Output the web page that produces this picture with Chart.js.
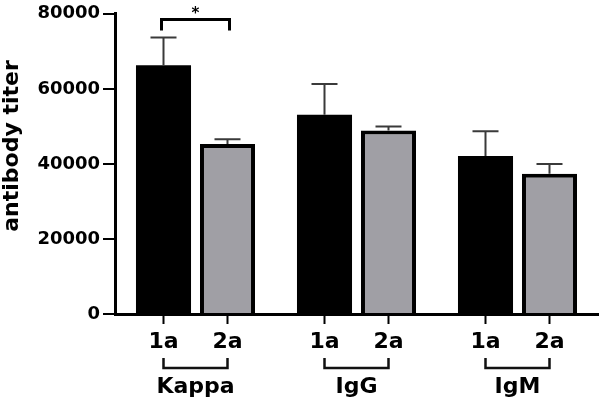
<!DOCTYPE html>
<html>
<head>
<meta charset="utf-8">
<script src="https://cdn.jsdelivr.net/npm/chart.js@4.4.1/dist/chart.umd.min.js"></script>
<style>
  html, body { margin: 0; padding: 0; background: #fff; }
  #wrap { width: 600px; height: 405px; }
</style>
</head>
<body>
<div id="wrap"><canvas id="titer-chart" width="600" height="405"></canvas></div>
<script>
// Chart data
const groups    = ['Kappa', 'IgG', 'IgM'];
const subLabels = ['1a', '2a'];
const titer1a   = [66300, 53100, 42100];
const titer2a   = [45300, 48900, 37400];
const err1a     = [7400, 8200, 6600];
const err2a     = [1300, 1100, 2600];
const yTicks    = [0, 20000, 40000, 60000, 80000];
const yTitle    = 'antibody titer';
const sigGroup  = 0;      // Kappa 1a vs 2a
const sigLabel  = '*';

const FONT = 'DejaVu Sans';
const errors = [err1a, err2a];

/**
 * Draws upward-only error bars with caps on top of every bar.
 */
const errorBars = {
  id: 'errorBars',
  afterDatasetsDraw(chart) {
    const ctx = chart.ctx;
    const y = chart.scales.y;
    ctx.save();
    ctx.strokeStyle = '#3a3a3a';
    ctx.lineWidth = 2;
    chart.data.datasets.forEach((ds, d) => {
      chart.getDatasetMeta(d).data.forEach((bar, i) => {
        const top = y.getPixelForValue(ds.data[i] + errors[d][i]);
        ctx.beginPath();
        ctx.moveTo(bar.x, bar.y);
        ctx.lineTo(bar.x, top);
        ctx.moveTo(bar.x - 13, top);
        ctx.lineTo(bar.x + 13, top);
        ctx.stroke();
      });
    });
    ctx.restore();
  }
};

/**
 * Draws the per-bar tick marks and labels, the group brackets and names
 * under the x axis, the y title and the significance bracket.
 */
const groupAxis = {
  id: 'groupAxis',
  afterDraw(chart) {
    const ctx = chart.ctx;
    const base = chart.scales.x.top;
    const y = chart.scales.y;
    const m0 = chart.getDatasetMeta(0).data;
    const m1 = chart.getDatasetMeta(1).data;
    ctx.save();
    ctx.fillStyle = '#000';
    ctx.textAlign = 'center';
    ctx.textBaseline = 'middle';

    groups.forEach((g, i) => {
      const xs = [m0[i].x, m1[i].x];
      // tick marks
      ctx.strokeStyle = '#000';
      ctx.lineWidth = 2;
      ctx.beginPath();
      xs.forEach(x => { ctx.moveTo(x, base); ctx.lineTo(x, base + 10); });
      ctx.stroke();
      // 1a / 2a labels
      ctx.font = `bold 22px "${FONT}"`;
      xs.forEach((x, k) => ctx.fillText(subLabels[k], x, base + 28));
      // bracket
      ctx.strokeStyle = '#111';
      ctx.lineWidth = 2.5;
      ctx.beginPath();
      ctx.moveTo(xs[0], base + 44);
      ctx.lineTo(xs[0], base + 54);
      ctx.lineTo(xs[1], base + 54);
      ctx.lineTo(xs[1], base + 44);
      ctx.stroke();
      // group name
      ctx.fillText(g, (xs[0] + xs[1]) / 2, base + 73);
    });

    // y axis title
    ctx.save();
    ctx.translate(12, 146);
    ctx.rotate(-Math.PI / 2);
    ctx.font = `bold 22px "${FONT}"`;
    ctx.fillText(yTitle, 0, 0);
    ctx.restore();

    // significance bracket
    const a = m0[sigGroup], b = m1[sigGroup];
    const top = y.getPixelForValue(Math.max(titer1a[sigGroup] + err1a[sigGroup],
                                            titer2a[sigGroup] + err2a[sigGroup]));
    const yLine = top - 18;
    ctx.strokeStyle = '#000';
    ctx.lineWidth = 3;
    ctx.beginPath();
    ctx.moveTo(a.x - 2, yLine + 11);
    ctx.lineTo(a.x - 2, yLine);
    ctx.lineTo(b.x + 2, yLine);
    ctx.lineTo(b.x + 2, yLine + 11);
    ctx.stroke();
    ctx.font = `bold 15px "${FONT}"`;
    ctx.fillText(sigLabel, (a.x + b.x) / 2, yLine - 5);
    ctx.restore();
  }
};

Chart.defaults.font.family = FONT;
Chart.defaults.font.weight = 'bold';
Chart.defaults.color = '#000';

new Chart(document.getElementById('titer-chart'), {
  type: 'bar',
  data: {
    labels: groups,
    datasets: [
      { label: subLabels[0], data: titer1a, backgroundColor: '#000', borderWidth: 0 },
      { label: subLabels[1], data: titer2a, backgroundColor: '#a09fa5',
        borderColor: '#000', borderWidth: 4 }
    ]
  },
  options: {
    responsive: false,
    animation: false,
    devicePixelRatio: 1,
    categoryPercentage: 0.795,
    barPercentage: 0.86,
    layout: { padding: { top: 10, right: 2, left: 0, bottom: 0 } },
    plugins: { legend: { display: false }, tooltip: { enabled: false } },
    scales: {
      x: {
        grid: { display: false },
        border: { display: true, color: '#000', width: 3 },
        ticks: { display: false },
        afterFit: s => { s.height = 91; }
      },
      y: {
        min: 0,
        max: 80000,
        afterBuildTicks: s => { s.ticks = yTicks.map(v => ({ value: v })); },
        ticks: {
          font: { size: 18, weight: 'bold' },
          padding: 3,
          color: '#000',
          callback: v => String(v)
        },
        grid: { drawOnChartArea: false, color: '#000', lineWidth: 2, tickLength: 12 },
        border: { display: true, color: '#000', width: 3 },
        title: { display: false },
        afterFit: s => { s.width = 115; }
      }
    }
  },
  plugins: [errorBars, groupAxis]
});
</script>
</body>
</html>
